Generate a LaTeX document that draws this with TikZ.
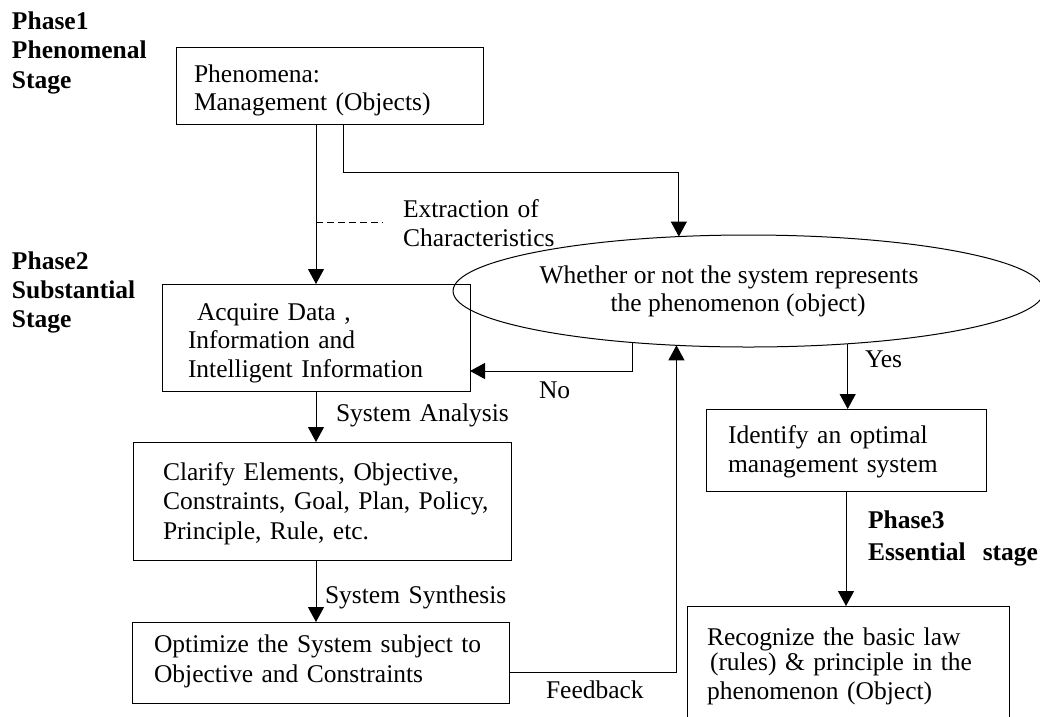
\documentclass[tikz,border=0pt]{standalone}
\usepackage{fontspec}
\setmainfont{Liberation Serif}
\usetikzlibrary{arrows.meta,shapes.geometric}
\hyphenpenalty=10000
\exhyphenpenalty=10000
\begin{document}
\begin{tikzpicture}[x=1pt,y=-1pt,
  every node/.style={inner sep=0pt, outer sep=0pt},
  txt/.style={font=\fontsize{25.5}{#1}\selectfont},
  stepbox/.style={draw, line width=1pt, rectangle, anchor=north west,
    inner ysep=0pt, align=left},
  phase/.style={anchor=base west, text width=220pt, align=left,
    font=\fontsize{25.5}{#1}\selectfont\bfseries},
  lbl/.style={anchor=base west, text width=220pt, align=left, txt=29},
  link/.style={line width=1pt},
  arr/.style={line width=1pt, -{Triangle[width=16pt,length=15pt]}},
]
\clip (0,0) rectangle (1040,716);

% stage headings
\node[phase=29.5] (ph1) at (12,29) {Phase1\\Phenomenal\\Stage};
\node[phase=29] (ph2) at (12,269) {Phase2\\Substantial\\Stage};
\node[phase=32] (ph3) at (868,528) {Phase3\\Essential\ \ stage};

% process boxes
\node[stepbox, txt=28, inner xsep=18pt, text width=271pt,
      text height=35pt, text depth=42pt] (box1) at (176,47)
  {Phenomena:\\Management (Objects)};
\node[stepbox, txt=28.5, inner xsep=26pt, text width=256pt,
      text height=36pt, text depth=71pt] (box2) at (162,284)
  {\hspace*{9pt}Acquire Data ,\\Information and\\Intelligent Information};
\node[stepbox, txt=29.5, inner xsep=12pt, text width=354pt,
      text height=38pt, text depth=80pt] (box3) at (133,442)
  {\hspace*{18pt}Clarify Elements, Objective,\\\hspace*{18pt}Constraints, Goal, Plan, Policy,\\\hspace*{18pt}Principle, Rule, etc.};
\node[stepbox, txt=30, inner xsep=22pt, text width=333pt,
      text height=30pt, text depth=51pt] (box4) at (132,622)
  {Optimize the System subject to\\Objective and Constraints};
\node[stepbox, txt=29, inner xsep=22pt, text width=236pt,
      text height=34pt, text depth=48pt] (box5) at (706,409)
  {Identify an optimal\\management system};
\node[stepbox, txt=29, inner xsep=20pt, text width=282pt,
      text height=39pt, text depth=85pt] (box6) at (687,606)
  {Recognize the basic law\\[-4pt]\hspace*{3pt}(rules) \& principle in the\\phenomenon (Object)};

% decision
\node[draw, line width=1pt, ellipse, minimum width=503pt, minimum height=112pt,
      align=center, txt=28] (ell) at (748.5,291)
  {Whether or not the system represents\hspace*{39pt}\\the phenomenon (object)\hspace*{21pt}};

% edge labels
\node[lbl] (extract) at (403,217) {Extraction of\\Characteristics};
\node[lbl] (analysis) at (336,421) {System Analysis};
\node[lbl] (synthesis) at (325,603) {System Synthesis};
\node[lbl] (no) at (539,398) {No};
\node[lbl] (yes) at (865,367) {Yes};
\node[lbl] (feedback) at (546,698) {Feedback};

% routing points
\coordinate (spine) at (316,0);
\coordinate (split) at (343,172);
\coordinate (dashend) at (383,222);
\coordinate (noy) at (0,371);
\coordinate (fby) at (0,672);

% connectors
\draw[arr] (box1.south -| spine) -- (box2.north -| spine);
\draw[link, dash pattern=on 7pt off 4pt] (dashend -| spine) -- (dashend);
\draw[arr] (box1.south -| split) |- (ell.142.3 |- split) -- (ell.142.3);
\draw[arr] (box2.south -| spine) -- (box3.north -| spine);
\draw[arr] (box3.south -| spine) -- (box4.north -| spine);
\draw[arr] (ell.204.2) |- (box2.east |- noy);
\draw[arr] (box4.east |- fby) -| (ell.217.3);
\draw[arr] (ell.332.1) -- (ell.332.1 |- box5.north);
\draw[arr] (box5.south) -- (box5.south |- box6.north);
\end{tikzpicture}
\end{document}
